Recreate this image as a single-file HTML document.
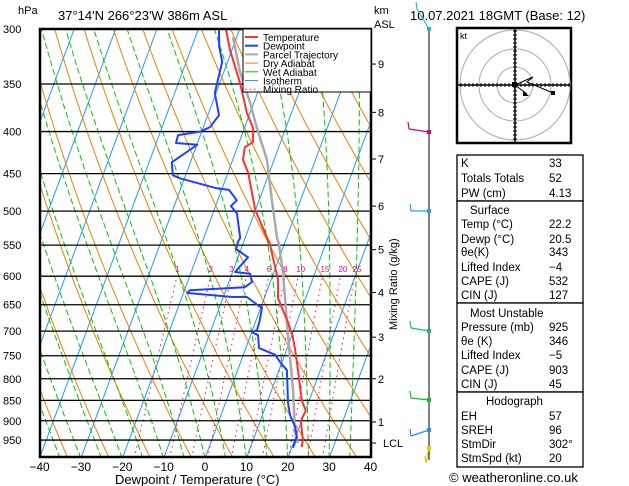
<!DOCTYPE html>
<html><head><meta charset="utf-8"><style>
body{margin:0;background:#fff;}
svg{display:block;font-family:"Liberation Sans",sans-serif;}
</style></head><body>
<svg id="c" width="629" height="486" viewBox="0 0 629 486">
<defs><clipPath id="pc"><rect x="40" y="29" width="331" height="428"/></clipPath></defs>
<g id="bg" clip-path="url(#pc)"></g>
<g id="iso"></g>
<g id="prof" clip-path="url(#pc)"></g>
<rect x="40" y="29" width="331" height="428" fill="none" stroke="#000" stroke-width="2.5"/>
<g id="ax" font-size="11"></g>
<text x="18" y="14" font-size="11">hPa</text>
<text x="58" y="20" font-size="13">37°14'N  266°23'W  386m  ASL</text>
<text x="374" y="14" font-size="11">km</text>
<text x="374" y="28" font-size="11">ASL</text>
<text x="410" y="20" font-size="13">10.07.2021  18GMT  (Base: 12)</text>
<text x="115" y="484" font-size="13">Dewpoint / Temperature (°C)</text>
<text transform="translate(397,330) rotate(-90)" font-size="11">Mixing Ratio (g/kg)</text>
<g id="leg" font-size="11">
<rect x="243" y="29" width="128" height="63" fill="#fff" stroke="#000" stroke-width="1"/>
</g>
<g id="wind"><line x1="429" y1="29" x2="429" y2="460" stroke="#000" stroke-width="1"/></g>
<g id="hodo"></g>
<g id="tbl" font-size="11.5"></g>
<text x="449" y="482" font-size="13">© weatheronline.co.uk</text>
</svg>
<script>
const NS="http://www.w3.org/2000/svg";
// ---- data ----
const tempP=[969,950,900,875,850,765,738,712,684,638,606,569,547,539,498,449,433,418,412,396,380,349,318,301];
const tempT=[22.4,22.0,19.8,20.1,18.2,13.7,12.1,10.4,8.0,3.3,1.7,-1.6,-3.6,-4.7,-10.1,-15.1,-17.5,-18.2,-16.7,-17.9,-20.7,-25.1,-30.5,-33.2];
const dewP=[971,942,916,886,856,781,763,748,734,708,702,698,679,656,651,636,636,629,624,619,610,596,593,569,556,545,539,503,493,485,471,469,456,452,436,415,413,404,400,395,382,359,329,315,301];
const dewT=[20.3,20.3,19.0,16.7,15.1,11.9,9.5,7.7,3.2,1.8,0.0,1.1,0.9,0.3,-0.9,-4.3,-7.7,-19.1,-18.7,-5.7,-4.4,-5.6,-9.4,-7.6,-11.2,-11.4,-11.2,-14.2,-16.3,-15.4,-18.2,-21.3,-31.1,-33.1,-34.5,-29.9,-35.2,-35.4,-30.4,-28.4,-27.3,-30.3,-31.3,-33.4,-34.9];
const parP=[958,929,826,753,684,595,547,539,485,433,396,369,337,307];
const parT=[21.1,19.4,15.2,11.5,7.7,2.3,-1.4,-2.3,-6.9,-11.7,-17,-20.9,-26.3,-30.9];
const isobars=[300,350,400,450,500,550,600,650,700,750,800,850,900,950];
const xTicks=[-40,-30,-20,-10,0,10,20,30,40];
const mixRatios=[1,2,3,4,6,8,10,15,20,25];
const kmLevels=[1,2,3,4,5,6,7,8,9];
const kmPress=[903,800,712,628,557,493,432,379,331];
// ---- axes ----
function yP(p){return 29+356.6*Math.log(p/300);}
function xT(t,p){return 40+(t+40)*4.1375+(457-yP(p))*0.37;}
function el(tag,attrs,parent){const e=document.createElementNS(NS,tag);for(const k in attrs)e.setAttribute(k,attrs[k]);parent.appendChild(e);return e;}
const bg=document.getElementById('bg'),prof=document.getElementById('prof'),ax=document.getElementById('ax'),iso=document.getElementById('iso');
function line(pts,style,parent,name){const d=pts.map((q,i)=>(i?'L':'M')+q[0].toFixed(1)+' '+q[1].toFixed(1)).join('');const e=el('path',Object.assign({d:d,fill:'none'},style),parent);


return e;}
// isotherms
for(let t=-120;t<=40;t+=10){line([[xT(t,1000),yP(1000)],[xT(t,300),yP(300)]],{stroke:'#1e9bff','stroke-width':1},bg,'isotherm');}
// dry adiabats
for(let th=230;th<=480;th+=10){const pts=[];for(let p=1000;p>=300;p-=10){const T=th*Math.pow(p/1000,0.286)-273.15;pts.push([xT(T,p),yP(p)]);}line(pts,{stroke:'#f08000','stroke-width':1},bg,'dry-adiabat');}
// wet adiabats
function es(T){return 6.112*Math.exp(17.67*T/(T+243.5));}
for(let tw=-45;tw<=40;tw+=5){let T=tw+273.15;const pts=[[xT(tw,1000),yP(1000)]];for(let p=1000;p>300;p-=5){const rs=0.622*es(T-273.15)/(p-es(T-273.15));const dTdp=(287*T+2.5e6*rs)/(p*(1004+2.5e6*2.5e6*rs*0.622/(287*T*T)));T-=dTdp*5;pts.push([xT(T-273.15,p-5),yP(p-5)]);}
line(pts,{stroke:'#00c800','stroke-width':1,'stroke-dasharray':'6 3'},bg,'wet-adiabat');}
// mixing ratio
mixRatios.forEach(w=>{const pts=[];for(let p=1000;p>=600;p-=10){const e=w*p/(622+w);const l=Math.log(e/6.112);const Td=243.5*l/(17.67-l);pts.push([xT(Td,p),yP(p)]);}
line(pts,{stroke:'#ff0090','stroke-width':1,'stroke-dasharray':'1.5 4'},bg,'mixing-ratio-line');
const e=600*w/(622+w),l=Math.log(e/6.112),Td=243.5*l/(17.67-l);
const t=el('text',{x:xT(Td,600)-2,y:yP(600)-4,'font-size':8,fill:'#ff0090'},ax);t.textContent=w;

});
// isobars
isobars.forEach(p=>{const y=yP(p);const l=el('line',{x1:40,x2:371,y1:y,y2:y,stroke:'#000','stroke-width':1.3},iso);


const t=el('text',{x:3,y:y+4},ax);t.textContent=p;

});
xTicks.forEach(v=>{const t=el('text',{x:xT(v,1000),y:471,'text-anchor':'middle','font-size':12},ax);t.textContent=(v<0?'\u2212'+(-v):v);

});
kmLevels.forEach((k,i)=>{const y=yP(kmPress[i]);el('line',{x1:371,x2:376,y1:y,y2:y,stroke:'#000'},ax);const t=el('text',{x:378,y:y+4},ax);t.textContent=k;

});
{const y=yP(958);el('line',{x1:371,x2:376,y1:y,y2:y,stroke:'#000'},ax);const t=el('text',{x:383,y:y+4},ax);t.textContent='LCL';

}
// profiles
function prof2(P,T,col,w,name){line(P.map((p,i)=>[xT(T[i],p),yP(p)]),{stroke:col,'stroke-width':w,'stroke-linejoin':'round'},prof,name);}
prof2(parP,parT,'#aaaaaa',2.5,'parcel-trajectory');
prof2(tempP,tempT,'#ff3030',2,'temperature-line');
prof2(dewP,dewT,'#2040ff',2,'dewpoint-line');
// legend
const leg=document.getElementById('leg');
[['Temperature','#ff3030',''],['Dewpoint','#2040ff',''],['Parcel Trajectory','#aaaaaa',''],['Dry Adiabat','#f08000',''],['Wet Adiabat','#00c800',''],['Isotherm','#1e9bff',''],['Mixing Ratio','#ff0090','1.5 3']].forEach((r,i)=>{const y=37+i*8.7;
const l=el('line',{x1:245,x2:258,y1:y,y2:y,stroke:r[1],'stroke-width':i<3?2:1},leg);if(r[2])l.setAttribute('stroke-dasharray',r[2]);


const t=el('text',{x:263,y:y+4,'font-size':10},leg);t.textContent=r[0];

});
// wind barbs
const wind=document.getElementById('wind');
[[29,'#20c0c0',-12,-20],[132,'#d0008c',-20,-3],[211,'#20a0ff',-18,0],[331,'#10c080',-18,-3],[400,'#10c020',-18,-2],[430,'#2090ff',-18,6],[448,'#e0d000',-3,15]].forEach(b=>{
const g=el('g',{},wind);


el('line',{x1:429,y1:b[0],x2:429+b[2],y2:b[0]+b[3],stroke:b[1],'stroke-width':1.2},g);
el('line',{x1:429+b[2],y1:b[0]+b[3],x2:429+b[2]-1,y2:b[0]+b[3]-7,stroke:b[1],'stroke-width':1.2},g);
el('rect',{x:427,y:b[0]-2,width:4,height:4,fill:b[1]},g);});
// hodograph
const ho=document.getElementById('hodo');const cx=515,cy=85;
el('rect',{x:457,y:28,width:114,height:115,fill:'#fff',stroke:'#000','stroke-width':2.5},ho);
[18,36,55].forEach(r=>el('circle',{cx:cx,cy:cy,r:r,fill:'none',stroke:'#aaa','stroke-width':1},ho));
el('line',{x1:458,x2:570,y1:cy,y2:cy,stroke:'#000','stroke-width':1.5},ho);
el('line',{y1:29,y2:142,x1:cx,x2:cx,stroke:'#000','stroke-width':1.5},ho);
for(let d=-54;d<=54;d+=4){el('line',{x1:cx+d,x2:cx+d,y1:cy-2,y2:cy+2,stroke:'#000'},ho);el('line',{y1:cy+d,y2:cy+d,x1:cx-2,x2:cx+2,stroke:'#000'},ho);}
el('path',{d:'M515 85 L533 77 L527 82 L553 93 M515 85 L527 94',fill:'none',stroke:'#000','stroke-width':1},ho);
el('rect',{x:512,y:82,width:5,height:5,fill:'#000'},ho);el('rect',{x:551,y:91,width:4,height:4,fill:'#000'},ho);
el('path',{d:'M523 91 L529 96 L523 96Z',fill:'#000'},ho);
{const t=el('text',{x:460,y:39,'font-size':9},ho);t.textContent='kt';}
// table
const tb=document.getElementById('tbl');
[[155,201],[201,303],[303,392],[392,467]].forEach(b=>el('rect',{x:457,y:b[0],width:126,height:b[1]-b[0],fill:'#fff',stroke:'#000','stroke-width':1.3},tb));
const rows=[[167,'K','33'],[182,'Totals Totals','52'],[197,'PW (cm)','4.13'],[214,'   Surface',''],[228,'Temp (°C)','22.2'],[243,'Dewp (°C)','20.5'],[256,'θe(K)','343'],[271,'Lifted Index','\u22124'],[285,'CAPE (J)','532'],[299,'CIN (J)','127'],[317,' Most Unstable',''],[331,'Pressure (mb)','925'],[345,'θe (K)','346'],[359,'Lifted Index','\u22125'],[374,'CAPE (J)','903'],[388,'CIN (J)','45'],[405,'    Hodograph',''],[420,'EH','57'],[434,'SREH','96'],[448,'StmDir','302°'],[462,'StmSpd (kt)','20']];
rows.forEach(r=>{const t=el('text',{x:r[1].startsWith(' ')?470:461,y:r[0]},tb);t.textContent=r[1].trim();


if(r[1].startsWith('    '))t.setAttribute('x',486);
if(r[2]){const v=el('text',{x:549,y:r[0]},tb);v.textContent=r[2];

}});
</script>
</body></html>
